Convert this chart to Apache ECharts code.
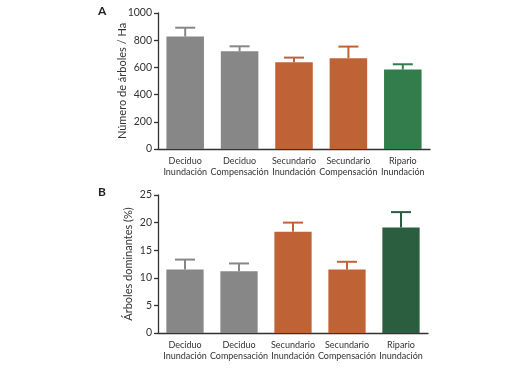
<!DOCTYPE html>
<html><head><meta charset="utf-8">
<script src="https://cdn.jsdelivr.net/npm/echarts@6/dist/echarts.min.js"></script>
<style>html,body{margin:0;padding:0;background:#fff}#c{width:528px;height:368px}</style>
</head><body><div id="c"></div>
<script>
const categories = ['Deciduo\nInundación','Deciduo\nCompensación','Secundario\nInundación','Secundario\nCompensación','Ripario\nInundación'];
const treesPerHa = [827, 718, 637, 668, 584];
const treesPerHaErr = [65, 37, 35, 85, 39];
const dominantPct = [11.5, 11.2, 18.35, 11.5, 19.1];
const dominantPctErr = [1.8, 1.4, 1.65, 1.4, 2.8];
const colorsA = ['#878787','#878787','#bf6337','#bf6337','#327d4b'];
const colorsB = ['#878787','#878787','#bf6337','#bf6337','#2b5e3f'];
const yTicksA = [0, 200, 400, 600, 800, 1000];
const yTicksB = [0, 5, 10, 15, 20, 25];

const FONT = 'Lato';
const axisLine = {lineStyle:{color:'#333', width:1.3}};
function xAxis(gi){
  return {type:'category', gridIndex:gi, data:categories,
    axisLine:axisLine, axisTick:{alignWithLabel:true, length:4, lineStyle:{color:'#333',width:1.3}},
    axisLabel:{interval:0, fontFamily:FONT, fontSize:9, color:'#333', lineHeight:11, margin:7}};
}
function yAxis(gi, ticks, name, nameGap){
  return {type:'value', gridIndex:gi, min:ticks[0], max:ticks[ticks.length-1], interval:ticks[1]-ticks[0],
    name:name, nameLocation:'middle', nameGap:nameGap, nameMoveOverlap:false,
    nameTextStyle:{fontFamily:FONT, fontSize:11, color:'#333'},
    axisLine:{show:true, lineStyle:{color:'#333', width:1.3}},
    axisTick:{show:true, length:4, lineStyle:{color:'#333',width:1.3}},
    splitLine:{show:false},
    axisLabel:{fontFamily:FONT, fontSize:10.5, color:'#333', margin:6, formatter:function(v){return String(v);}}};
}
function errSeries(gi, vals, errs, colors){
  return {type:'custom', xAxisIndex:gi, yAxisIndex:gi, z:1,
    data: vals.map((v,i)=>[i, v, v+errs[i]]),
    renderItem:function(params, api){
      const i = api.value(0);
      const p0 = api.coord([i, api.value(1)]);
      const p1 = api.coord([i, api.value(2)]);
      const hw = 10;
      const c = colors[params.dataIndex];
      return {type:'group', children:[
        {type:'line', shape:{x1:p0[0], y1:p0[1], x2:p1[0], y2:p1[1]}, style:{stroke:c, lineWidth:2}},
        {type:'line', shape:{x1:p1[0]-hw, y1:p1[1], x2:p1[0]+hw, y2:p1[1]}, style:{stroke:c, lineWidth:2}}
      ]};
    }};
}
function barSeries(gi, vals, colors){
  return {type:'bar', xAxisIndex:gi, yAxisIndex:gi, z:2, barWidth:'69%',
    data: vals.map((v,i)=>({value:v, itemStyle:{color:colors[i]}}))};
}
const chart = echarts.init(document.getElementById('c'), null, {renderer:'canvas'});
chart.setOption({
  animation:false,
  title:[
    {text:'A', left:93, top:0, textStyle:{fontFamily:FONT, fontSize:12, fontWeight:'bold', color:'#222'}},
    {text:'B', left:93, top:181, textStyle:{fontFamily:FONT, fontSize:12, fontWeight:'bold', color:'#222'}}
  ],
  grid:[
    {left:158, top:13, width:272, height:136},
    {left:158, top:195, width:270, height:138}
  ],
  xAxis:[xAxis(0), xAxis(1)],
  yAxis:[yAxis(0, yTicksA, 'Número de árboles / Ha', 30), yAxis(1, yTicksB, 'Árboles dominantes (%)', 24)],
  series:[
    errSeries(0, treesPerHa, treesPerHaErr, colorsA),
    barSeries(0, treesPerHa, colorsA),
    errSeries(1, dominantPct, dominantPctErr, colorsB),
    barSeries(1, dominantPct, colorsB)
  ]
});
</script></body></html>
